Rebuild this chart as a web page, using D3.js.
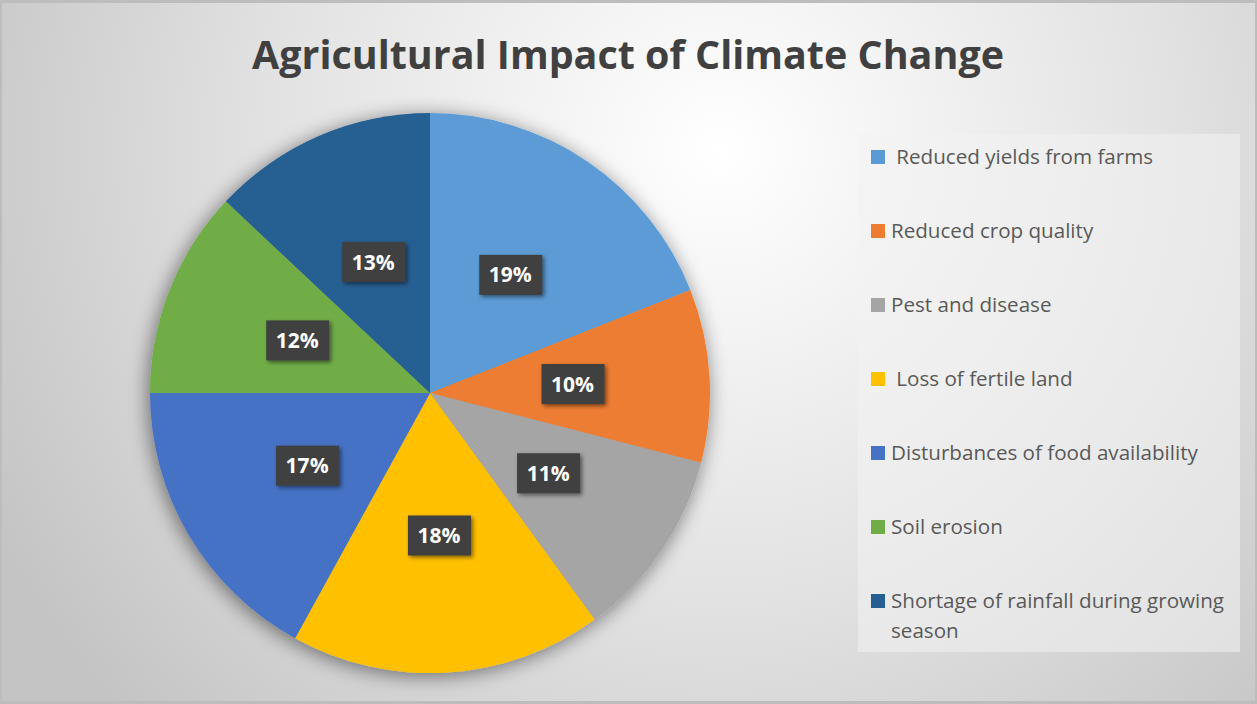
<!DOCTYPE html>
<html>
<head>
<meta charset="utf-8">
<script src="https://cdn.jsdelivr.net/npm/d3@7"></script>
<style>
  html, body { margin: 0; padding: 0; }
  body { width: 1257px; height: 704px; overflow: hidden; }
  text { white-space: pre; }
</style>
</head>
<body>
<svg id="chart" width="1257" height="704"></svg>
<script>
// Chart data
const categories = [
  " Reduced yields from farms",
  "Reduced crop quality",
  "Pest and disease",
  " Loss of fertile land",
  "Disturbances of food availability",
  "Soil erosion",
  "Shortage of rainfall during growing season"
];
const shares = [19, 10, 11, 18, 17, 12, 13];
const sliceColors = ["#5B9BD5", "#ED7D31", "#A5A5A5", "#FFC000", "#4472C4", "#70AD47", "#255E91"];
const title = "Agricultural Impact of Climate Change";

const W = 1257, H = 704;
const svg = d3.select("#chart");
const defs = svg.append("defs");

// Background gradient: bright near the upper middle, grey toward the edges
const bg = defs.append("radialGradient")
  .attr("id", "bgGrad")
  .attr("gradientUnits", "userSpaceOnUse")
  .attr("cx", 720).attr("cy", 150).attr("r", 820);
bg.append("stop").attr("offset", "0").attr("stop-color", "#ffffff");
bg.append("stop").attr("offset", "0.55").attr("stop-color", "#e2e2e2");
bg.append("stop").attr("offset", "1").attr("stop-color", "#c4c4c4");

svg.append("rect").attr("width", W).attr("height", H).attr("fill", "#bdbdbd");
svg.append("rect").attr("x", 2).attr("y", 3).attr("width", W - 4).attr("height", H - 6)
  .attr("fill", "url(#bgGrad)");

// Soft shadow under the pie
const sh = defs.append("filter").attr("id", "pieShadow")
  .attr("x", "-20%").attr("y", "-20%").attr("width", "140%").attr("height", "140%");
sh.append("feGaussianBlur").attr("in", "SourceAlpha").attr("stdDeviation", 10).attr("result", "b");
sh.append("feOffset").attr("in", "b").attr("dx", -2).attr("dy", 3).attr("result", "o");
sh.append("feComponentTransfer").attr("in", "o").attr("result", "s")
  .append("feFuncA").attr("type", "linear").attr("slope", 0.5);
const shm = sh.append("feMerge");
shm.append("feMergeNode").attr("in", "s");
shm.append("feMergeNode").attr("in", "SourceGraphic");

// Shadow for the value label boxes
const ls = defs.append("filter").attr("id", "labelShadow")
  .attr("x", "-30%").attr("y", "-30%").attr("width", "160%").attr("height", "160%");
ls.append("feGaussianBlur").attr("in", "SourceAlpha").attr("stdDeviation", 2).attr("result", "b");
ls.append("feOffset").attr("in", "b").attr("dx", 2).attr("dy", 2).attr("result", "o");
ls.append("feComponentTransfer").attr("in", "o").attr("result", "s")
  .append("feFuncA").attr("type", "linear").attr("slope", 0.5);
const lsm = ls.append("feMerge");
lsm.append("feMergeNode").attr("in", "s");
lsm.append("feMergeNode").attr("in", "SourceGraphic");

// Title
svg.append("text")
  .attr("x", 628).attr("y", 69)
  .attr("text-anchor", "middle")
  .attr("font-family", "'Open Sans', sans-serif")
  .attr("font-weight", 700)
  .attr("font-size", 39)
  .attr("fill", "#404040")
  .attr("textLength", 752)
  .attr("lengthAdjust", "spacingAndGlyphs")
  .text(title);

// Pie
const cx = 430, cy = 393, R = 280;
const pie = d3.pie().sort(null).value(d => d)(shares);
const arc = d3.arc().innerRadius(0).outerRadius(R);
const labelArc = d3.arc().innerRadius(R * 0.51).outerRadius(R * 0.51);
const color = d3.scaleOrdinal().domain(d3.range(categories.length)).range(sliceColors);

const g = svg.append("g").attr("transform", `translate(${cx},${cy})`);
g.append("g").attr("filter", "url(#pieShadow)")
  .selectAll("path").data(pie).join("path")
  .attr("d", arc)
  .attr("fill", (d, i) => color(i));

// Value labels: dark boxes with white percentages
const labels = g.selectAll("g.lbl").data(pie).join("g")
  .attr("class", "lbl")
  .attr("transform", d => `translate(${labelArc.centroid(d)})`);
labels.append("rect")
  .attr("x", -31).attr("y", -20).attr("width", 63).attr("height", 40)
  .attr("fill", "#3f3f3f")
  .attr("filter", "url(#labelShadow)");
labels.append("text")
  .attr("text-anchor", "middle")
  .attr("dy", "0.36em")
  .attr("font-family", "'Open Sans', sans-serif")
  .attr("font-weight", 700)
  .attr("font-size", 21)
  .attr("fill", "#ffffff")
  .text(d => d.data + "%");

// Legend
const lg = svg.append("g");
lg.append("rect")
  .attr("x", 858).attr("y", 134).attr("width", 382).attr("height", 518)
  .attr("fill", "#f2f2f2").attr("opacity", 0.55);

const legendY = d3.scalePoint().domain(d3.range(categories.length)).range([157, 601]);
const items = lg.selectAll("g.item").data(categories).join("g")
  .attr("class", "item")
  .attr("transform", (d, i) => `translate(871,${legendY(i)})`);
items.append("rect")
  .attr("x", 0).attr("y", -7).attr("width", 14).attr("height", 14)
  .attr("fill", (d, i) => color(i));
items.each(function(d) {
  const t = d3.select(this).append("text")
    .attr("x", 20)
    .attr("font-family", "'Open Sans', sans-serif")
    .attr("font-size", 20.6)
    .attr("fill", "#595959");
  const lines = d.startsWith("Shortage") ? ["Shortage of rainfall during growing", "season"] : [d];
  lines.forEach((ln, k) => {
    t.append("tspan").attr("x", 20).attr("y", k * 30).attr("dy", "0.35em").text(ln);
  });
});
</script>
</body>
</html>
